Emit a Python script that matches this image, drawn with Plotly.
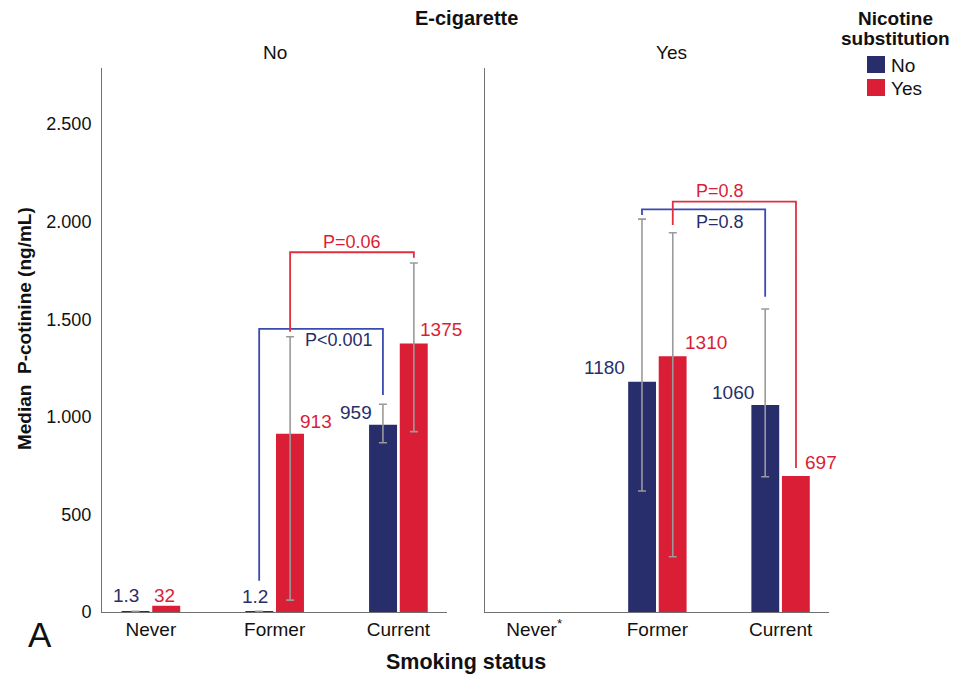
import plotly.graph_objects as go

# ---- data -------------------------------------------------------------
categories = ["Never", "Former", "Current"]
tick_labels_ecig_no = ["Never", "Former", "Current"]
tick_labels_ecig_yes = ["Never<sup>*</sup>", "Former", "Current"]
x_pos = [0, 1, 2]

# median P-cotinine (ng/mL); e-cigarette No / Yes, nicotine substitution No / Yes
ecig_no_nic_no = [1.3, 1.2, 959]
ecig_no_nic_yes = [32, 913, 1375]
ecig_yes_nic_no = [None, 1180, 1060]
ecig_yes_nic_yes = [None, 1310, 697]

# interval limits drawn as error bars (None = not shown)
ecig_no_nic_no_lo = [0.4, 0.4, 867]
ecig_no_nic_no_hi = [3, 3, 1064]
ecig_no_nic_yes_lo = [None, 61, 924]
ecig_no_nic_yes_hi = [None, 1410, 1788]
ecig_yes_nic_no_lo = [None, 620, 693]
ecig_yes_nic_no_hi = [None, 2013, 1552]
ecig_yes_nic_yes_lo = [None, 283, None]
ecig_yes_nic_yes_hi = [None, 1943, None]

# Former vs Current comparisons: label, panel, series, left leg bottom, bar height, right leg bottom
comparisons = [
    ("P<0.001", 1, "no", 160, 1450, 1112),
    ("P=0.06", 1, "yes", 1436, 1843, 1815),
    ("P=0.8", 2, "no", 2034, 2063, 1615),
    ("P=0.8", 2, "yes", 1983, 2102, 738),
]
# P label positions (x in category units, y in ng/mL)
p_label_pos = [(1.52, 1393), (1.625, 1897), (1.51, 2000), (1.51, 2158)]

# ---- style ------------------------------------------------------------
NAVY = "#272e6b"
RED = "#d91e36"
BLUE_LINE = "#3a4bb0"
RED_LINE = "#e0303f"
GREY = "#9a9a9a"
AXIS = "#707070"
FONT = "Liberation Sans, Arial, sans-serif"

BAR_W = 0.226
OFF = {"no": -0.237, "yes": 0.011}
CENTER = {"no": -0.125, "yes": 0.125}
COLOR = {"no": NAVY, "yes": RED}
LINE_COLOR = {"no": BLUE_LINE, "yes": RED_LINE}

Y_MAX = 2787
X_RANGE = [-0.395, 2.393]

fig = go.Figure()

panels = [
    (1, "x", "y", ecig_no_nic_no, ecig_no_nic_yes,
     (ecig_no_nic_no_lo, ecig_no_nic_no_hi), (ecig_no_nic_yes_lo, ecig_no_nic_yes_hi)),
    (2, "x2", "y2", ecig_yes_nic_no, ecig_yes_nic_yes,
     (ecig_yes_nic_no_lo, ecig_yes_nic_no_hi), (ecig_yes_nic_yes_lo, ecig_yes_nic_yes_hi)),
]

for panel, xa, ya, vals_no, vals_yes, err_no, err_yes in panels:
    for key, vals, (lo, hi) in (("no", vals_no, err_no), ("yes", vals_yes, err_yes)):
        fig.add_trace(go.Bar(
            x=x_pos, y=vals, width=BAR_W, offset=OFF[key],
            marker=dict(color=COLOR[key], line=dict(width=0)),
            xaxis=xa, yaxis=ya, showlegend=False, hoverinfo="skip",
        ))
        ex, ey, eplus, eminus = [], [], [], []
        for i, v in enumerate(vals):
            if v is None or lo[i] is None:
                continue
            ex.append(x_pos[i] + CENTER[key])
            ey.append(v)
            eplus.append(hi[i] - v)
            eminus.append(v - lo[i])
        fig.add_trace(go.Scatter(
            x=ex, y=ey, mode="markers", marker=dict(size=1, opacity=0),
            error_y=dict(type="data", symmetric=False, array=eplus, arrayminus=eminus,
                         color=GREY, thickness=1.6, width=4),
            xaxis=xa, yaxis=ya, showlegend=False, hoverinfo="skip",
        ))

# value labels above each bar: (panel, series, index, xshift px, anchor, yshift px)
label_style = [
    (1, "no", 0, 6, "right", 16), (1, "yes", 0, -2, "center", 10),
    (1, "no", 1, 11, "right", 15), (1, "yes", 1, 8, "left", 12),
    (1, "no", 2, -9, "right", 12), (1, "yes", 2, 4, "left", 14),
    (2, "no", 1, -15, "right", 14), (2, "yes", 1, 10, "left", 14),
    (2, "no", 2, -9, "right", 13), (2, "yes", 2, 7, "left", 13),
]
series = {(1, "no"): ecig_no_nic_no, (1, "yes"): ecig_no_nic_yes,
          (2, "no"): ecig_yes_nic_no, (2, "yes"): ecig_yes_nic_yes}
for panel, key, i, dx, anchor, dy in label_style:
    v = series[(panel, key)][i]
    fig.add_annotation(
        x=x_pos[i] + CENTER[key], y=v, xref="x" if panel == 1 else "x2",
        yref="y" if panel == 1 else "y2", text=f"{v:g}", showarrow=False,
        xanchor=anchor, yanchor="middle", xshift=dx, yshift=dy,
        font=dict(family=FONT, size=19, color=COLOR[key]),
    )

# comparison brackets (Former vs Current) with P values
for (label, panel, key, y_left, y_top, y_right), (px, py) in zip(comparisons, p_label_pos):
    xa = "x" if panel == 1 else "x2"
    ya = "y" if panel == 1 else "y2"
    xl = 1 + CENTER[key]
    xr = 2 + CENTER[key]
    fig.add_shape(type="path", xref=xa, yref=ya,
                  path=f"M {xl},{y_left} L {xl},{y_top} L {xr},{y_top} L {xr},{y_right}",
                  line=dict(color=LINE_COLOR[key], width=1.8))
    fig.add_annotation(x=px, y=py, xref=xa, yref=ya, text=label, showarrow=False,
                       xanchor="center", yanchor="middle",
                       font=dict(family=FONT, size=18, color=COLOR[key]))

# ---- axes -------------------------------------------------------------
axis_common = dict(showgrid=False, zeroline=False, showline=True, linecolor=AXIS,
                   linewidth=1, ticks="", tickfont=dict(family=FONT, size=19, color="#111"))
fig.update_layout(
    xaxis=dict(domain=[0, 0.4746], range=X_RANGE, tickvals=x_pos,
               ticktext=tick_labels_ecig_no, **axis_common),
    xaxis2=dict(domain=[0.5275, 1], range=X_RANGE, tickvals=x_pos,
                ticktext=tick_labels_ecig_yes, anchor="y2", **axis_common),
    yaxis=dict(range=[0, Y_MAX], tickvals=[0, 500, 1000, 1500, 2000, 2500],
               tickformat=",d", ticklabelstandoff=6,
               **{**axis_common, "tickfont": dict(family=FONT, size=18, color="#111")}),
    yaxis2=dict(range=[0, Y_MAX], anchor="x2", showticklabels=False,
                showgrid=False, zeroline=False, showline=True, linecolor=AXIS, linewidth=1),
    separators=",.",
    width=965, height=676,
    margin=dict(l=102, r=136, t=68, b=64),
    plot_bgcolor="white", paper_bgcolor="white",
    showlegend=False,
)

# ---- titles and headers -----------------------------------------------
def text(x, y, s, size, bold=False, color="#111", xanchor="center", textangle=0):
    fig.add_annotation(x=x, y=y, xref="paper", yref="paper",
                       text=f"<b>{s}</b>" if bold else s, showarrow=False,
                       xanchor=xanchor, yanchor="middle", textangle=textangle,
                       font=dict(family=FONT, size=size, color=color))

text(0.5007, 1.0919, "E-cigarette", 20, bold=True)
text(0.2373, 1.0276, "No", 19)
text(0.7827, 1.0276, "Yes", 19)
text(0.5007, -0.0919, "Smoking status", 21.5, bold=True)
text(-0.1073, 0.522, "Median\u00a0 P-cotinine (ng/mL)", 19, bold=True, textangle=-90)
text(-0.0853, -0.0414, "A", 35)

# legend: Nicotine substitution
text(1.0908, 1.0901, "Nicotine", 19, bold=True)
text(1.0908, 1.0551, "substitution", 19, bold=True)
legend_items = [("No", NAVY, 0.9908, 1.0221, 1.0055), ("Yes", RED, 0.9485, 0.9798, 0.9632)]
for name, col, y0, y1, ty in legend_items:
    fig.add_shape(type="rect", xref="paper", yref="paper", x0=1.0523, x1=1.0770,
                  y0=y0, y1=y1, fillcolor=col, line=dict(width=0))
    text(1.0825, ty, name, 19, xanchor="left")

fig.write_html("out.html")
